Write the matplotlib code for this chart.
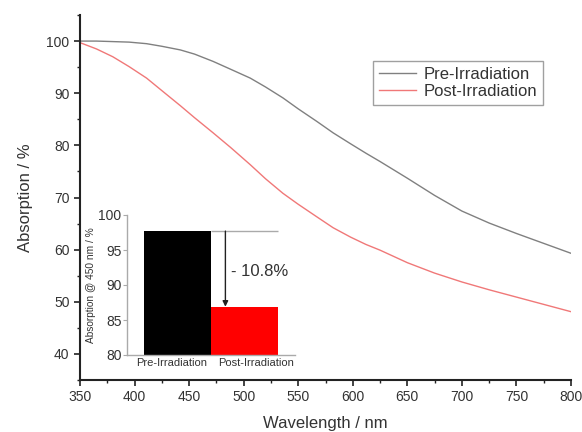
import matplotlib
matplotlib.use("Agg")
import matplotlib.pyplot as plt
from matplotlib.ticker import MultipleLocator

plt.rcParams['font.family'] = ['Liberation Sans', 'DejaVu Sans']

wavelength = [350, 365, 380, 395, 411, 425, 442, 455, 472, 488, 506, 520, 536, 550,
              567, 582, 598, 612, 625, 650, 675, 700, 725, 750, 775, 800]
pre_irr = [100.0, 100.0, 99.9, 99.8, 99.5, 99.0, 98.3, 97.5, 96.1, 94.6, 92.9, 91.2, 89.1, 87.0,
           84.6, 82.4, 80.3, 78.5, 76.9, 73.7, 70.4, 67.4, 65.1, 63.1, 61.2, 59.3]
post_irr = [99.7, 98.5, 97.0, 95.1, 92.9, 90.5, 87.6, 85.3, 82.4, 79.6, 76.3, 73.6, 70.8, 68.7,
            66.3, 64.2, 62.4, 61.0, 59.9, 57.5, 55.5, 53.8, 52.3, 50.9, 49.5, 48.1]

bar_labels = ["Pre-Irradiation", "Post-Irradiation"]
bar_values = [97.7, 86.9]
drop_text = "- 10.8%"

fig = plt.figure(figsize=(5.82, 4.32), dpi=100)
ax = fig.add_axes([80 / 582, 52 / 432, 491 / 582, 365 / 432])

ax.plot(wavelength, pre_irr, color='#808080', lw=1.0, label='Pre-Irradiation')
ax.plot(wavelength, post_irr, color='#f07878', lw=1.0, label='Post-Irradiation')

ax.set_xlim(350, 800)
ax.xaxis.set_major_locator(MultipleLocator(50))
ax.xaxis.set_minor_locator(MultipleLocator(25))
ax.yaxis.set_minor_locator(MultipleLocator(5))
ax.set_yticks(range(40, 101, 10))
ax.set_ylim(35, 105)
for s in ['top', 'right']:
    ax.spines[s].set_visible(False)
for s in ['left', 'bottom']:
    ax.spines[s].set_linewidth(1.5)
    ax.spines[s].set_color('#222222')
ax.tick_params(which='major', direction='out', length=4, width=1.2, labelsize=10,
               labelcolor='#333333', color='#222222')
ax.tick_params(which='minor', direction='out', length=2.5, width=1.0, color='#222222')
ax.set_xlabel('Wavelength / nm', fontsize=12, color='#333333', labelpad=8)
ax.set_ylabel('Absorption / %', fontsize=12, color='#333333', labelpad=10)

leg = ax.legend(loc='upper left', bbox_to_anchor=(0.597, 0.874), fontsize=12,
                frameon=True, fancybox=False, handlelength=2.2, handletextpad=0.45,
                borderpad=0.35, labelspacing=0.15, borderaxespad=0)
leg.get_frame().set_edgecolor('#888888')
leg.get_frame().set_linewidth(1.0)
for t in leg.get_texts():
    t.set_color('#333333')

# inset
ins = fig.add_axes([127 / 582, (432 - 355) / 432, 168 / 582, 140 / 432])
ins.bar([0, 1], [v - 80 for v in bar_values], bottom=80, width=1.0,
        color=['black', 'red'], edgecolor='none')
ins.set_xlim(-0.75, 1.76)
ins.set_ylim(80, 100)
ins.set_yticks([80, 85, 90, 95, 100])
ins.set_xticks([-0.09, 1.18])
ins.set_xticklabels(bar_labels)
for s in ['top', 'right']:
    ins.spines[s].set_visible(False)
for s in ['left', 'bottom']:
    ins.spines[s].set_color('#aaaaaa')
    ins.spines[s].set_linewidth(1.0)
ins.tick_params(axis='y', direction='out', length=3, color='#aaaaaa', labelsize=10,
                labelcolor='#333333', pad=1)
ins.tick_params(axis='x', length=0, labelsize=8, labelcolor='#333333', pad=2)
ins.set_ylabel('Absorption @ 450 nm / %', fontsize=7.3, color='#333333', labelpad=2)
ins.hlines(bar_values[0], 0.5, 1.5, color='#aaaaaa', lw=1.0)
ins.annotate('', xy=(0.72, bar_values[1]), xytext=(0.72, bar_values[0]),
             arrowprops=dict(arrowstyle='-|>', color='#222222', lw=1.0,
                             mutation_scale=8, shrinkA=0, shrinkB=0))
ins.text(0.8, 92.0, drop_text, fontsize=12, color='#333333', va='center', ha='left')

fig.savefig('out.png', dpi=100)
